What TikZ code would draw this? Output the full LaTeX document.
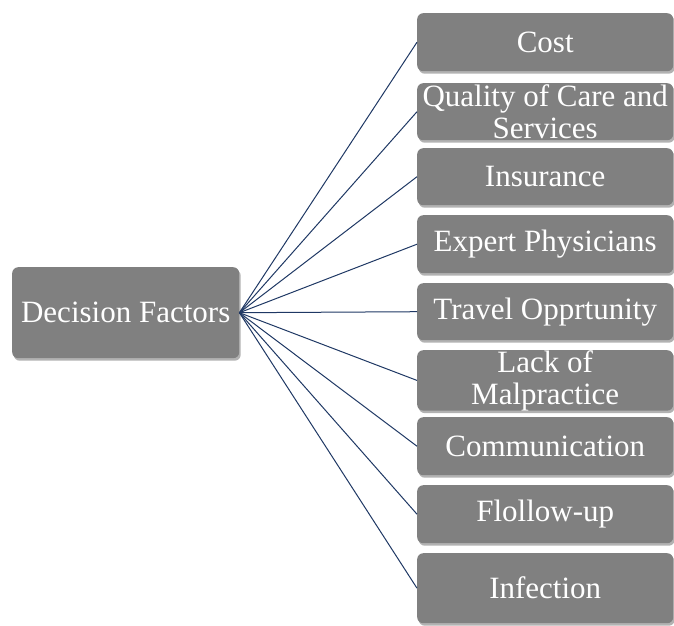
\documentclass[tikz,border=0pt]{standalone}
\usepackage{fontspec}
\setmainfont{Liberation Serif}
\usetikzlibrary{shadows}
\definecolor{boxgray}{HTML}{808080}
\definecolor{navy}{HTML}{1F3864}
\begin{document}
\begin{tikzpicture}[x=1pt,y=-1pt,
  box/.style={draw=none, fill=boxgray, rounded corners=6pt, text=white,
    font=\fontsize{31}{32}\selectfont, inner sep=0pt, align=center,
    drop shadow={shadow xshift=1.5pt, shadow yshift=-2.5pt, opacity=0.3, fill=black}},
  rbox/.style={box, minimum width=256pt, minimum height=58pt, anchor=north west},
  conn/.style={draw=navy, line width=1pt}]
\useasboundingbox (0,0) rectangle (674,625);
\node[box, minimum width=227pt, minimum height=91pt, anchor=north west] (df) at (12,267) {Decision Factors};
\node[rbox] (cost) at (417,13) {Cost};
\node[rbox, minimum height=57pt] (qual) at (417,83) {Quality of Care and\\Services};
\node[rbox, minimum height=57pt] (ins) at (417,148) {Insurance};
\node[rbox] (exp) at (417,215) {Expert Physicians};
\node[rbox, minimum height=57pt] (trav) at (417,283) {Travel Opprtunity};
\node[rbox] (lack) at (417,350) {Lack of\\Malpractice};
\node[rbox] (comm) at (417,417) {Communication};
\node[rbox] (foll) at (417,485) {Flollow-up};
\node[rbox, minimum height=70pt] (inf) at (417,553) {Infection};
\foreach \t in {cost,qual,ins,exp,trav,lack,comm,foll,inf}
  \draw[conn] (df.east) -- (\t.west);
\end{tikzpicture}
\end{document}
